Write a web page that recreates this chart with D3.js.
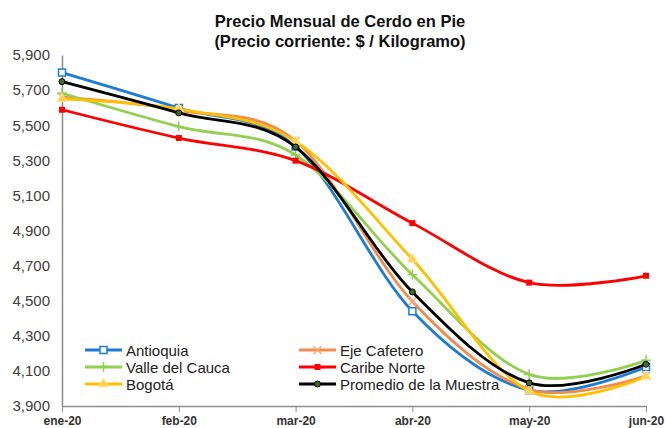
<!DOCTYPE html>
<html>
<head>
<meta charset="utf-8">
<script src="https://cdn.jsdelivr.net/npm/d3@7"></script>
<style>
  body { margin: 0; background: #fff; }
  text { font-family: "Liberation Sans", Arial, sans-serif; }
</style>
</head>
<body>
<svg id="svg"></svg>
<script>
// months on the x axis
var months = ['ene-20', 'feb-20', 'mar-20', 'abr-20', 'may-20', 'jun-20'];

// y ticks
var yTicks = [3900, 4100, 4300, 4500, 4700, 4900, 5100, 5300, 5500, 5700, 5900];

// series values ($ / kg)
var antioquia    = [5800, 5598, 5378, 4440, 3990, 4122];
var ejeCafetero  = [5660, 5585, 5410, 4495, 3995, 4072];
var valleCauca   = [5682, 5492, 5330, 4648, 4080, 4160];
var caribeNorte  = [5588, 5427, 5298, 4942, 4603, 4642];
var bogota       = [5650, 5592, 5408, 4736, 3985, 4070];
var promedio     = [5748, 5570, 5376, 4550, 4032, 4138];

var seriesNames = ['Antioquia', 'Eje Cafetero', 'Valle del Cauca', 'Caribe Norte', 'Bogotá', 'Promedio de la Muestra'];

var W = 665, H = 428;

var Chart = {

  svg: null,

  x: null,

  y: null,

  styles: [
    { color: '#1c7cd5', marker: 'square-open' },
    { color: '#f28c4e', marker: 'x' },
    { color: '#92d050', marker: 'plus' },
    { color: '#ff0000', marker: 'square' },
    { color: '#ffc000', marker: 'triangle' },
    { color: '#000000', marker: 'circle' }
  ],

  // draws one marker into g, centred at 0,0
  marker: function(g, type, color) {
    if (type === 'square-open') {
      g.append('rect').attr('x', -3.5).attr('y', -3.5).attr('width', 7).attr('height', 7)
        .attr('fill', '#fff').attr('stroke', color).attr('stroke-width', 1.5);
    } else if (type === 'square') {
      g.append('rect').attr('x', -3).attr('y', -3).attr('width', 6).attr('height', 6)
        .attr('fill', color);
    } else if (type === 'x') {
      g.append('path').attr('d', 'M-4,-4L4,4M-4,4L4,-4')
        .attr('stroke', '#f7a97a').attr('stroke-width', 1.5).attr('fill', 'none');
    } else if (type === 'plus') {
      g.append('path').attr('d', 'M-5,0L5,0M0,-5L0,5')
        .attr('stroke', color).attr('stroke-width', 1.5).attr('fill', 'none');
    } else if (type === 'triangle') {
      g.append('path').attr('d', d3.symbol().type(d3.symbolTriangle).size(40)())
        .attr('fill', '#ffd24d').attr('stroke', '#ffe38a').attr('stroke-width', 1);
    } else if (type === 'circle') {
      g.append('circle').attr('r', 3)
        .attr('fill', '#3f6b2a').attr('stroke', '#000').attr('stroke-width', 1);
    }
  },

  buildAxes: function() {
    var svg = this.svg;

    var yAxis = svg.append('g')
      .attr('transform', 'translate(' + this.x.range()[0] + ',0)')
      .call(d3.axisLeft(this.y).tickValues(yTicks).tickFormat(d3.format(',')).tickSize(0).tickPadding(12));
    yAxis.select('.domain').attr('stroke', '#8c8c8c').attr('stroke-width', 1.5);
    yAxis.selectAll('text')
      .attr('font-size', 15)
      .attr('fill', '#404040')
      .style('font-family', '"Liberation Sans", Arial, sans-serif');

    var xAxis = svg.append('g')
      .attr('transform', 'translate(0,' + this.y(3900) + ')')
      .call(d3.axisBottom(this.x).tickSize(6).tickPadding(4).tickSizeOuter(0));
    xAxis.select('.domain').attr('stroke', '#8c8c8c').attr('stroke-width', 1.5);
    xAxis.selectAll('line').attr('stroke', '#8c8c8c');
    xAxis.selectAll('text')
      .attr('font-size', 12)
      .attr('font-weight', 'bold')
      .attr('fill', '#333')
      .style('font-family', '"Liberation Sans", Arial, sans-serif');
  },

  buildSeries: function(data) {
    var self = this;
    var line = d3.line()
      .x(function(d, i) { return self.x(months[i]); })
      .y(function(d) { return self.y(d); })
      .curve(d3.curveCardinal.tension(0));

    var layer = this.svg.append('g').attr('class', 'series');
    data.forEach(function(values, s) {
      var st = self.styles[s];
      layer.append('path')
        .attr('d', line(values))
        .attr('fill', 'none')
        .attr('stroke', st.color)
        .attr('stroke-width', 2.8)
        .attr('stroke-linejoin', 'round');
      values.forEach(function(v, i) {
        var g = layer.append('g')
          .attr('transform', 'translate(' + self.x(months[i]) + ',' + self.y(v) + ')');
        self.marker(g, st.marker, st.color);
      });
    });
  },

  buildLegend: function() {
    var self = this;
    var legend = this.svg.append('g').attr('class', 'legend');
    var colX = [85, 299], rowY = 350, rowH = 17;
    seriesNames.forEach(function(name, i) {
      var col = i % 2, row = Math.floor(i / 2);
      var gx = colX[col], gy = rowY + row * rowH;
      var st = self.styles[i];
      legend.append('line')
        .attr('x1', gx).attr('x2', gx + 37)
        .attr('y1', gy).attr('y2', gy)
        .attr('stroke', st.color).attr('stroke-width', 2.8);
      var m = legend.append('g').attr('transform', 'translate(' + (gx + 18.5) + ',' + gy + ')');
      self.marker(m, st.marker, st.color);
      legend.append('text')
        .attr('x', gx + 41).attr('y', gy + 5.5)
        .attr('font-size', 15)
        .attr('fill', '#222')
        .text(name);
    });
  },

  buildTitle: function() {
    var t = this.svg.append('text')
      .attr('x', 340)
      .attr('text-anchor', 'middle')
      .attr('font-size', 16.5)
      .attr('font-weight', 'bold')
      .attr('fill', '#111');
    t.append('tspan').attr('x', 340).attr('y', 27).text('Precio Mensual de Cerdo en Pie');
    t.append('tspan').attr('x', 340).attr('y', 47).text('(Precio corriente: $ / Kilogramo)');
  },

  init: function() {
    this.svg = d3.select('#svg')
      .attr('width', W)
      .attr('height', H)
      .attr('viewBox', '0 0 ' + W + ' ' + H);

    this.x = d3.scalePoint().domain(months).range([62, 646]);
    this.y = d3.scaleLinear().domain([3900, 5900]).range([406, 55]);

    this.buildTitle();
    this.buildAxes();
    this.buildSeries([antioquia, ejeCafetero, valleCauca, caribeNorte, bogota, promedio]);
    this.buildLegend();
  }
};

Chart.init();
</script>
</body>
</html>
